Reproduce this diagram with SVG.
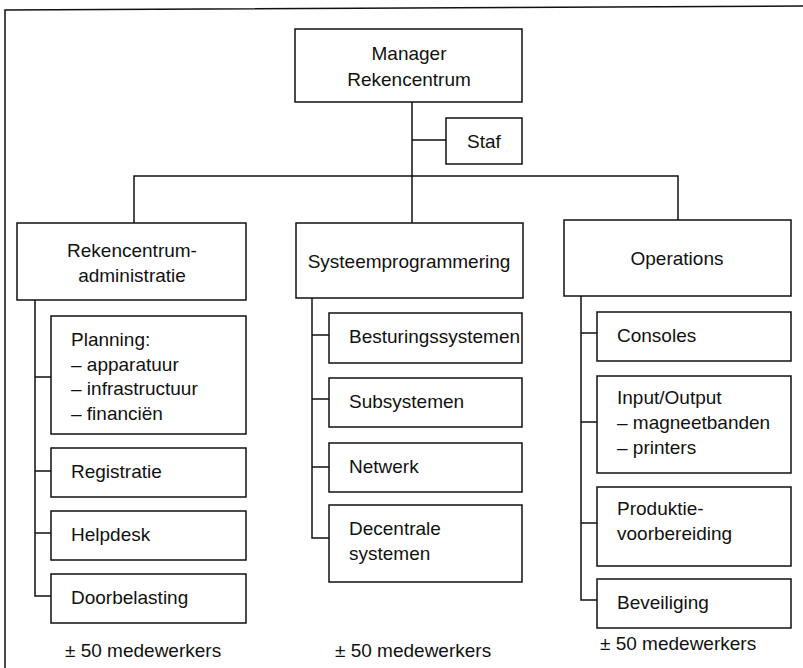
<svg xmlns="http://www.w3.org/2000/svg" width="803" height="668" viewBox="0 0 803 668">
<style>
rect{fill:#fff;stroke:#111;stroke-width:1.5}
.c path,.frame{fill:none;stroke:#111;stroke-width:1.5}
text{font-family:"Liberation Sans",Arial,sans-serif;font-size:19px;fill:#111}
.m{text-anchor:middle}
</style>
<rect width="803" height="668" style="stroke:none"/>
<path class="frame" d="M5,668 V10 L803,6"/>
<g class="c" id="connectors">
<path d="M412,102 V176 M412,140 H446 M134,223 V176 H678 V220 M412,176 V223"/>
<path d="M35,300 V596 H51 M35,377 H51 M35,471 H51 M35,533 H51"/>
<path d="M312,298 V538 H329 M312,335 H329 M312,399 H329 M312,467 H329"/>
<path d="M581,296 V600 H597 M581,333 H597 M581,422 H597 M581,523 H597"/>
</g>
<g id="manager"><rect x="295" y="29" width="227" height="73"/><text class="m" x="409" y="60">Manager</text><text class="m" x="409" y="86">Rekencentrum</text></g>
<g id="staf"><rect x="446" y="118" width="76" height="46"/><text class="m" x="484" y="148">Staf</text></g>
<g id="rca"><rect x="17" y="223" width="229" height="77"/><text class="m" x="132" y="257">Rekencentrum-</text><text class="m" x="132" y="282">administratie</text></g>
<g id="sp"><rect x="296" y="223" width="227" height="75"/><text class="m" x="409" y="268">Systeemprogrammering</text></g>
<g id="ops"><rect x="564" y="220" width="227" height="76"/><text class="m" x="677" y="265">Operations</text></g>
<g id="planning"><rect x="51" y="316" width="195" height="118"/><text x="71" y="346">Planning:</text><text x="71" y="370.5">– apparatuur</text><text x="71" y="395">– infrastructuur</text><text x="71" y="419.5">– financiën</text></g>
<g id="registratie"><rect x="51" y="448" width="195" height="49"/><text x="71" y="478">Registratie</text></g>
<g id="helpdesk"><rect x="51" y="511" width="195" height="49"/><text x="71" y="541">Helpdesk</text></g>
<g id="doorbelasting"><rect x="51" y="574" width="195" height="49"/><text x="71" y="604">Doorbelasting</text></g>
<g id="besturing"><rect x="329" y="313" width="193" height="50"/><text x="349" y="343">Besturingssystemen</text></g>
<g id="subsystemen"><rect x="329" y="378" width="193" height="49"/><text x="349" y="408">Subsystemen</text></g>
<g id="netwerk"><rect x="329" y="443" width="193" height="49"/><text x="349" y="473">Netwerk</text></g>
<g id="decentrale"><rect x="329" y="505" width="193" height="77"/><text x="349" y="535">Decentrale</text><text x="349" y="560">systemen</text></g>
<g id="consoles"><rect x="597" y="312" width="194" height="49"/><text x="617" y="342">Consoles</text></g>
<g id="io"><rect x="597" y="376" width="194" height="97"/><text x="617" y="404">Input/Output</text><text x="617" y="429">– magneetbanden</text><text x="617" y="454">– printers</text></g>
<g id="produktie"><rect x="597" y="487" width="194" height="79"/><text x="617" y="515">Produktie-</text><text x="617" y="540">voorbereiding</text></g>
<g id="beveiliging"><rect x="597" y="579" width="194" height="49"/><text x="617" y="609">Beveiliging</text></g>
<g id="counts"><text x="65" y="657">± 50 medewerkers</text><text x="335" y="657">± 50 medewerkers</text><text x="600" y="650">± 50 medewerkers</text></g>
</svg>
